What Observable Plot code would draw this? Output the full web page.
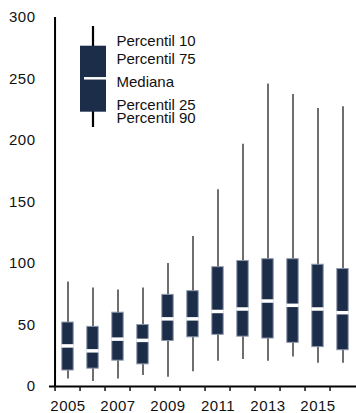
<!DOCTYPE html>
<html><head><meta charset="utf-8">
<script src="https://cdn.jsdelivr.net/npm/d3@7"></script>
<script src="https://cdn.jsdelivr.net/npm/@observablehq/plot@0.6"></script>
<style>
body{margin:0;background:#fff;}
#wrap{position:relative;width:356px;height:413px;overflow:hidden;}
#legend{position:absolute;left:0;top:0;}
svg text{font-family:"Liberation Sans",Arial,sans-serif;}
</style></head><body><div id="wrap"></div>
<script>
const years = [2005, 2006, 2007, 2008, 2009, 2010, 2011, 2012, 2013, 2014, 2015, 2016];
const p10 = [6, 4, 6, 9, 7.5, 12, 20.5, 22, 20.5, 24, 19, 19];
const p25 = [13, 14.5, 21, 18, 37, 40, 42, 40.5, 39, 35.5, 32, 29.5];
const median = [33, 29, 38.5, 37.5, 55, 55, 61, 63, 69.5, 66, 63, 60];
const p75 = [52, 48.5, 60, 50, 74.5, 77.5, 97, 102, 103.5, 103.5, 99, 95.5];
const p90 = [85, 80, 78.5, 80, 100, 122, 160, 197, 246, 237.5, 226, 227.5];
const yTicks = [0, 50, 100, 150, 200, 250, 300];
const labelYears = [2005, 2007, 2009, 2011, 2013, 2015];
const legendLabels = ["Percentil 10", "Percentil 75", "Mediana", "Percentil 25", "Percentil 90"];

const rows = years.map((y, i) => ({year: y, p10: p10[i], p25: p25[i], median: median[i], p75: p75[i], p90: p90[i]}));

const W = 356, H = 413;
const xRange = [49.3, 360.2];
const bw = (xRange[1] - xRange[0]) / years.length;
const boxW = 12.3;
const inset = (bw - boxW) / 2;
const navy = "#1c2d4a";
const font = "'Liberation Sans', Arial, sans-serif";

const chart = Plot.plot({
  width: W, height: H,
  marginLeft: 49, marginRight: 0, marginTop: 17, marginBottom: 27,
  style: {fontFamily: font, fontSize: "15px", color: "#111", background: "#fff", overflow: "visible"},
  x: {type: "band", domain: years, range: xRange, padding: 0},
  y: {domain: [0, 300]},
  marks: [
    Plot.ruleX(rows, {x: "year", y1: "p10", y2: "p90", stroke: "#6e6e6e", strokeWidth: 2}),
    Plot.barY(rows, {x: "year", y1: "p25", y2: "p75", fill: navy, stroke: "#8d98ab", strokeWidth: 1, insetLeft: inset, insetRight: inset}),
    Plot.tickY(rows, {x: "year", y: "median", stroke: "#fff", strokeWidth: 3.5, insetLeft: inset - 0.5, insetRight: inset - 0.5}),
    Plot.ruleY([0], {stroke: "#000", strokeWidth: 2}),
    Plot.ruleX([years[0]], {x: d => d, y1: 0, y2: 300, dx: -bw / 2, stroke: "#000", strokeWidth: 2}),
    Plot.axisY(yTicks, {tickSize: 0, tickPadding: 14, fontSize: 15, label: null}),
    Plot.axisX(years, {tickSize: 5, tickFormat: () => "", dx: -bw / 2, label: null, strokeWidth: 1.5}),
    Plot.axisX(labelYears, {tickSize: 0, tickPadding: 13.5, tickFormat: d => String(d), fontSize: 15, label: null})
  ]
});

d3.select(chart).selectAll("text").style("letter-spacing", "0.5px");

const wrap = document.getElementById("wrap");
wrap.appendChild(chart);

// Legend overlay
const lg = d3.select(wrap).append("svg").attr("id", "legend").attr("width", W).attr("height", H);
lg.append("line").attr("x1", 93).attr("x2", 93).attr("y1", 26).attr("y2", 127).attr("stroke", "#000").attr("stroke-width", 2.2);
lg.append("rect").attr("x", 80).attr("y", 45.7).attr("width", 26).attr("height", 66).attr("fill", navy);
lg.append("line").attr("x1", 84).attr("x2", 106).attr("y1", 78.3).attr("y2", 78.3).attr("stroke", "#fff").attr("stroke-width", 2.5);
const baselines = [45.7, 64, 86.5, 110, 122.5];
lg.selectAll("text.l").data(legendLabels).join("text")
  .attr("x", 116.5).attr("y", (d, i) => baselines[i])
  .attr("font-size", 15).attr("fill", "#111")
  .style("font-family", font)
  .text(d => d);
</script></body></html>
